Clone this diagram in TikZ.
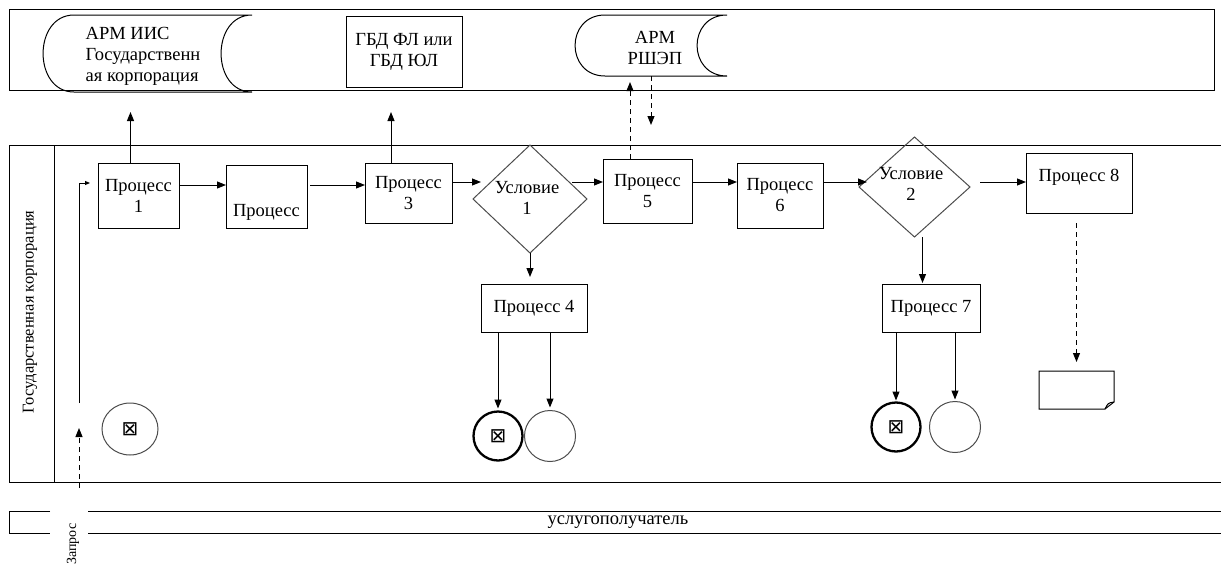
\documentclass[tikz,border=0pt]{standalone}
\usepackage{fontspec}
\setmainfont{Liberation Serif}
\newfontfamily\symfont{DejaVu Sans}
\usetikzlibrary{arrows.meta,shapes.geometric,calc}
\newcommand\storedshape[2]{%
  \draw[ln] ($(#1.north west)+(#2,0)$) -- (#1.north east)
    .. controls ($(#1.north east)+(-1.33*#2,0)$) and ($(#1.south east)+(-1.33*#2,0)$) .. (#1.south east)
    -- ($(#1.south west)+(#2,0)$)
    .. controls ($(#1.south west)+(-0.33*#2,0)$) and ($(#1.north west)+(-0.33*#2,0)$) .. ($(#1.north west)+(#2,0)$);}
\begin{document}
\begin{tikzpicture}[x=1pt,y=-1pt,
  every node/.style={font=\fontsize{18.5}{21}\selectfont, inner sep=0pt, outer sep=0pt},
  proc/.style={draw, line width=1pt, rectangle, align=center},
  diam/.style={draw=black!70, line width=1pt, diamond},
  ln/.style={line width=1pt},
  arr/.style={line width=1pt, -{Triangle[length=9pt,width=7pt]}},
  darr/.style={arr, dash pattern=on 5pt off 4pt},
  symb/.style={font=\symfont\fontsize{20}{20}\selectfont},
  endthick/.style={circle, draw, line width=2.3pt, minimum size=49pt, symb},
  endthin/.style={circle, draw=black!70, line width=1pt, minimum size=51pt},
  txt/.style={align=center},
]
\useasboundingbox (0,0) rectangle (1221,565);

% pools and lane
\draw[ln] (9,9) rectangle (1214,90);
\draw[ln] (1221,145) -- (9,145) -- (9,482) -- (1221,482);
\draw[ln] (54,145) -- (54,482);
\node[rotate=90, font=\fontsize{16.5}{18}\selectfont] (lanelbl) at (30,312) {Государственная корпорация};
\draw[ln] (50,511) -- (9,511) -- (9,533) -- (50,533);
\draw[ln] (88,511) -- (1221,511);
\draw[ln] (88,533) -- (1221,533);
\node (client) at (618,522) {услугополучатель};
\node[rotate=90, font=\fontsize{14}{14}\selectfont] (req) at (73,544) {Запрос};

% top systems
\node[minimum width=209, minimum height=77] (iis) at (147.5,53.5) {};
\storedshape{iis}{31}
\node[align=left] (iistxt) at (143,56) {АРМ ИИС\\Государственн\\ая корпорация};
\node[proc, minimum width=116, minimum height=71] (gbd) at (404,51.5) {ГБД ФЛ или\\ГБД ЮЛ};
\node[minimum width=152, minimum height=61] (rsh) at (651,45.5) {};
\storedshape{rsh}{30}
\node[txt] (rshtxt) at (655,48) {АРМ\\РШЭП};

% processes
\node[proc, minimum width=81, minimum height=65] (p1) at (138.5,195.5) {Процесс\\1};
\node[proc, minimum width=81, minimum height=63] (p2) at (266.5,196.5) {};
\node (p2txt) at (266.5,212) {Процесс};
\node[proc, minimum width=87, minimum height=60] (p3) at (408.5,193) {Процесс\\3};
\node[diam, minimum width=114, minimum height=108] (c1) at (530,199) {};
\node[txt] (c1txt) at (527,198) {Условие\\1};
\node[proc, minimum width=89, minimum height=64] (p5) at (647.5,191) {Процесс\\5};
\node[proc, minimum width=86, minimum height=65] (p6) at (780,195.5) {Процесс\\6};
\node[diam, minimum width=111, minimum height=100] (c2) at (914.5,187) {};
\node[txt] (c2txt) at (911,184) {Условие\\2};
\node[proc, minimum width=106, minimum height=60] (p8) at (1079,183) {};
\node (p8txt) at (1079,177) {Процесс 8};
\node[proc, minimum width=106, minimum height=48] (p4) at (534,308) {Процесс 4};
\node[proc, minimum width=98, minimum height=48] (p7) at (931,308) {Процесс 7};

% events
\node[ellipse, draw=black!70, line width=1pt, minimum width=56, minimum height=52, symb] (s0) at (130,429) {⊠};
\node[endthick] (e1) at (498,436) {⊠};
\node[endthin] (e2) at (550,436) {};
\node[endthick] (e3) at (896,427) {⊠};
\node[endthin] (e4) at (955,427) {};

% document
\node[minimum width=75, minimum height=38] (doc) at (1076.5,390) {};
\draw[ln] (doc.north west) -- (doc.north east) -- ($(doc.south east)+(0,-7)$) -- ($(doc.south east)+(-9,0)$) -- (doc.south west) -- cycle;
\draw[ln] ($(doc.south east)+(0,-7)$) .. controls ($(doc.south east)+(-6,-6)$) .. ($(doc.south east)+(-9,0)$);

% level coordinates
\coordinate (r0) at (0,183);
\coordinate (r1) at (0,182);
\coordinate (r2) at (0,185);
\coordinate (toplvl) at (0,112);
\coordinate (q0) at (79,488);
\coordinate (q1) at (79,428);
\coordinate (q2) at (79,403);

% connectors
\draw[darr] (q0) -- (q1);
\draw[line width=1pt, -{Triangle[length=5pt,width=4pt]}] (q2) |- ($(p1.west |- r0)+(-8,0)$);
\draw[arr] (p1.east |- r2) -- (p2.west |- r2);
\draw[arr] ($(p2.east |- r2)+(3,0)$) -- (p3.west |- r2);
\draw[arr] (p3.east |- r1) -- ($(c1.west |- r1)+(8,0)$);
\draw[arr] ($(c1.east |- r1)+(-15,0)$) -- (p5.west |- r1);
\draw[arr] (p5.east |- r1) -- (p6.west |- r1);
\draw[arr] (p6.east |- r1) -- ($(c2.west |- r1)+(8,0)$);
\draw[arr] ($(c2.east |- r1)+(10,0)$) -- (p8.west |- r1);

\draw[arr] (c1.south) -- ($(p4.north -| c1.south)+(0,-7)$);
\draw[arr] ($(c2.south)+(8,0)$) -- ($(p7.north -| c2.south)+(8,-1)$);
\draw[arr] (p4.south -| e1.north) -- ($(e1.north)+(0,-3)$);
\draw[arr] (p4.south -| e2.north) -- ($(e2.north)+(0,-3)$);
\draw[arr] (p7.south -| e3.north) -- ($(e3.north)+(0,-2)$);
\draw[arr] (p7.south -| e4.north) -- ($(e4.north)+(0,-2)$);

\draw[arr] ($(p1.north)+(-8,0)$) -- ($(p1.north |- toplvl)+(-8,0)$);
\draw[arr] ($(p3.north)+(-17.5,0)$) -- ($(p3.north |- toplvl)+(-17.5,0)$);
\draw[darr] ($(p5.north)+(-17.5,0)$) -- ($(p5.north |- rsh.south)+(-17.5,6)$);
\draw[darr] (rsh.south) -- ($(rsh.south)+(0,49)$);
\draw[darr] ($(p8.south -| doc.north)+(0,10)$) -- ($(doc.north)+(0,-9)$);
\end{tikzpicture}
\end{document}
